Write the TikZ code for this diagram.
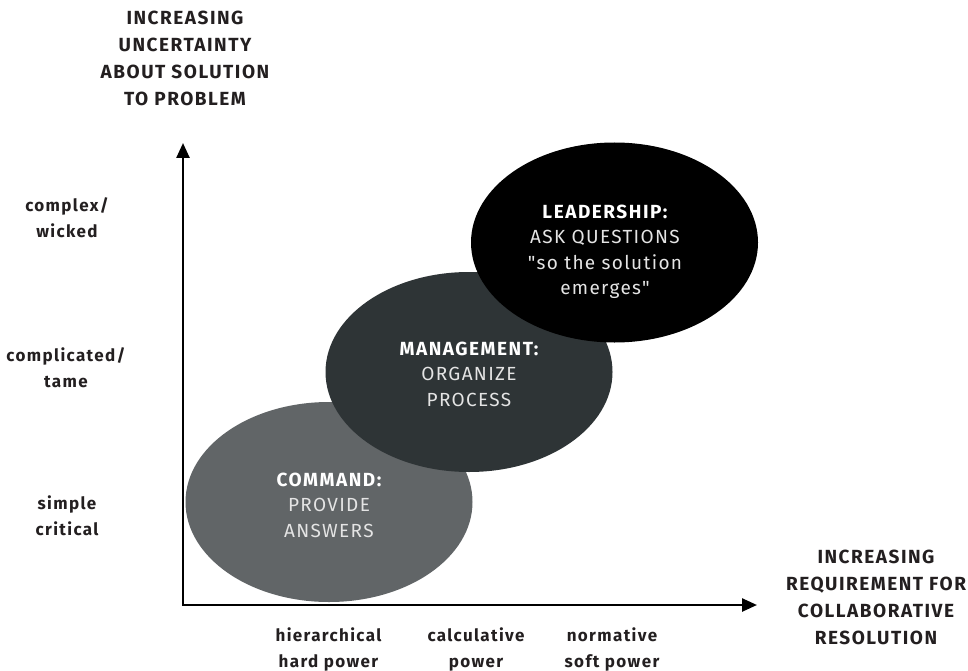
\documentclass[tikz,border=0pt]{standalone}
\usepackage{fontspec}
\setmainfont{Fira Sans}
\newfontfamily\labfont[LetterSpace=8]{Fira Sans}
\newfontfamily\txtfont[LetterSpace=7]{Fira Sans}
\usetikzlibrary{shapes.geometric,arrows.meta}
\definecolor{cmdgray}{HTML}{616567}
\definecolor{mgtgray}{HTML}{2E3436}
\definecolor{labcol}{HTML}{231F20}
\definecolor{txtcol}{HTML}{E4E4E4}
\begin{document}
\begin{tikzpicture}[x=1pt,y=-1pt,
  blob/.style={ellipse, minimum width=287pt, minimum height=200pt, inner sep=0pt, draw=none},
  axislab/.style={font=\labfont\bfseries\fontsize{19}{27}\selectfont, text=labcol, align=center},
  ticklab/.style={font=\labfont\bfseries\fontsize{17}{26}\selectfont, text=labcol, align=center},
  intext/.style={font=\txtfont\fontsize{19}{25.5}\selectfont, text=txtcol, align=center},
  axisline/.style={line width=2.5pt, line join=miter, {Triangle[length=15pt,width=13pt]}-{Triangle[length=15pt,width=13pt]}}
]
\useasboundingbox (0,0) rectangle (968,671);

% ellipses
\node[blob, fill=cmdgray] (cmd) at (329,502) {};
\node[blob, fill=mgtgray] (mgt) at (469,372) {};
\node[blob, fill=black] (ldr) at (614.5,242.5) {};

% ellipse texts
\node[intext] (cmdtxt) at (329,505) {{\labfont\bfseries\color{white}COMMAND:}\\PROVIDE\\ANSWERS};
\node[intext] (mgttxt) at (469,374) {{\labfont\bfseries\color{white}MANAGEMENT:}\\ORGANIZE\\PROCESS};
\node[intext] (ldrtxt) at (605,252) {{\labfont\bfseries\color{white}LEADERSHIP:}\\ASK QUESTIONS\\"so the solution\\emerges"};

% axes
\coordinate (origin) at (183,605);
\coordinate (ytip) at (183,143);
\coordinate (xtip) at (757,605);
\draw[axisline] (ytip) -- (origin) -- (xtip);

% axis titles
\node[axislab] (ylab) at (185,58) {INCREASING\\UNCERTAINTY\\ABOUT SOLUTION\\TO PROBLEM};
\node[axislab] (xlab) at (876,597) {INCREASING\\REQUIREMENT FOR\\COLLABORATIVE\\RESOLUTION};

% y tick labels
\node[ticklab] (ywicked) at (67,217.5) {complex/\\wicked};
\node[ticklab] (ytame) at (66,367.5) {complicated/\\tame};
\node[ticklab] (ysimple) at (67,515.5) {simple\\critical};

% x tick labels
\node[ticklab] (xhard) at (328.5,649.5) {hierarchical\\hard power};
\node[ticklab] (xcalc) at (476,649.5) {calculative\\power};
\node[ticklab] (xsoft) at (612,649.5) {normative\\soft power};
\end{tikzpicture}
\end{document}
